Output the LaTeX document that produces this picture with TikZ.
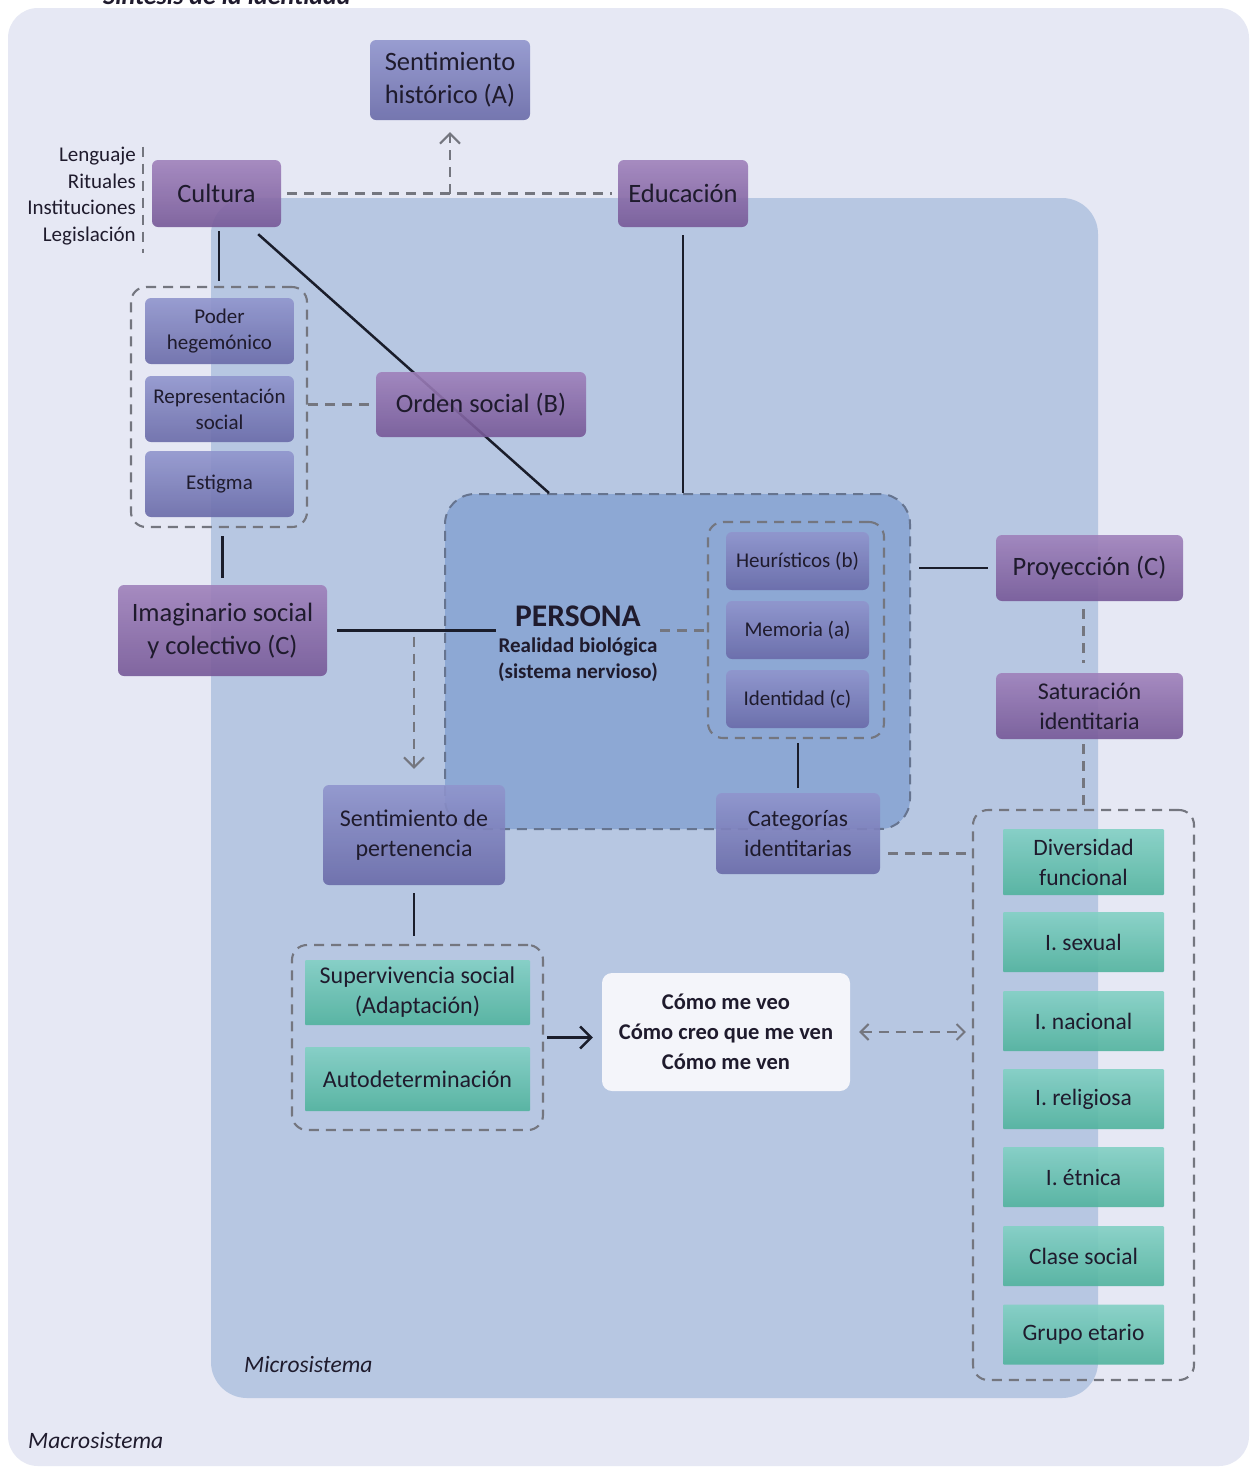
\documentclass[tikz,border=0pt]{standalone}
\usepackage{fontspec}
\setmainfont{Carlito}
\usetikzlibrary{arrows.meta,calc}
\pgfdeclarelayer{bg}
\pgfdeclarelayer{links}
\pgfsetlayers{bg,links,main}

\definecolor{macrobg}{HTML}{E6E8F4}
\definecolor{microbg}{HTML}{B7C7E2}
\definecolor{persfill}{HTML}{8DA8D4}
\definecolor{persedge}{HTML}{66748F}
\definecolor{purpT}{HTML}{9F81BB}
\definecolor{purpB}{HTML}{765897}
\definecolor{lavT}{HTML}{9095CD}
\definecolor{lavB}{HTML}{696AA8}
\definecolor{grnT}{HTML}{82D0C4}
\definecolor{grnB}{HTML}{50B39D}
\definecolor{paper}{HTML}{F4F5FA}
\definecolor{dashgrey}{HTML}{74767F}
\definecolor{ink}{HTML}{1F1B2D}
\definecolor{lineink}{HTML}{1A1D2B}

\tikzset{
  x=1pt, y=-1pt,
  box/.style={rounded corners=6pt, align=center, inner sep=0pt,
    fill opacity=0.9, text opacity=1, text=ink},
  purplebox/.style={box, top color=purpT, bottom color=purpB,
    font=\fontsize{26.5}{33}\selectfont},
  lavbox/.style={box, top color=lavT, bottom color=lavB,
    font=\fontsize{21}{26}\selectfont},
  greenbox/.style={box, rounded corners=1pt, top color=grnT, bottom color=grnB,
    font=\fontsize{23.5}{30}\selectfont, minimum width=161pt},
  groupbox/.style={draw=dashgrey, line width=2.1pt, dash pattern=on 10pt off 7pt,
    rounded corners=15pt, inner sep=0pt},
  sline/.style={draw=lineink, line width=2.5pt},
  dline/.style={draw=dashgrey, line width=2.1pt, dash pattern=on 10pt off 7pt},
  greytip/.tip={Straight Barb[length=10pt,width=20pt,line width=2pt]},
  smalltip/.tip={Straight Barb[length=8pt,width=16pt,line width=2pt]},
  blacktip/.tip={Straight Barb[length=11pt,width=22pt,line width=2.5pt]},
}

\begin{document}
\begin{tikzpicture}
\useasboundingbox (0,0) rectangle (1254,1468);

% --- system areas ---------------------------------------------------------
\begin{pgfonlayer}{bg}
  \fill[white] (0,0) rectangle (1254,1468);
  \fill[macrobg, rounded corners=30pt] (8,8) rectangle (1249,1466);
  \fill[microbg, rounded corners=36pt] (211,198) rectangle (1098,1398);
  \node[draw=persedge, fill=persfill, line width=2pt, dash pattern=on 10pt off 7pt,
        rounded corners=30pt, minimum width=465pt, minimum height=335pt, inner sep=0pt]
        (persona) at (677.5,661.5) {};
\end{pgfonlayer}

\node[anchor=base west, inner sep=0pt, text=ink,
      font=\fontsize{26}{30}\selectfont\bfseries\itshape] (title) at (103,4)
      {Síntesis de la identidad};

\node[anchor=west, inner sep=0pt, text=ink, font=\fontsize{23.5}{28}\selectfont\itshape]
      (microlbl) at (244,1364) {Microsistema};
\node[anchor=west, inner sep=0pt, text=ink, font=\fontsize{23.5}{28}\selectfont\itshape]
      (macrolbl) at (28,1440) {Macrosistema};

% --- dashed groups ---------------------------------------------------------
\node[groupbox, minimum width=176pt, minimum height=240pt] (leftgrp) at (219,407) {};
\node[groupbox, minimum width=176pt, minimum height=216pt] (innergrp) at (796,630) {};
\node[groupbox, minimum width=221pt, minimum height=570pt] (rgrp) at (1083.5,1095) {};
\node[groupbox, minimum width=251pt, minimum height=185pt] (ggrp) at (417.5,1037.5) {};

% --- upper level -----------------------------------------------------------
\node[lavbox, font=\fontsize{26.5}{33}\selectfont, minimum width=160pt, minimum height=80pt]
      (hist) at (450,80) {Sentimiento\\histórico (A)};
\node[purplebox, minimum width=129pt, minimum height=67pt] (cultura) at (216.5,193.5) {Cultura};
\node[purplebox, minimum width=130pt, minimum height=67pt] (educ) at (683,193.5) {Educación};
\node[anchor=east, inner sep=0pt, align=right, text=ink, font=\fontsize{21}{26.7}\selectfont]
      (cultlbl) at (136,196) {Lenguaje\\Rituales\\Instituciones\\Legislación};

% --- left column -----------------------------------------------------------
\node[lavbox, minimum width=149pt, minimum height=66pt] (poder) at (219.5,331) {Poder\\hegemónico};
\node[lavbox, minimum width=149pt, minimum height=66pt] (repr) at (219.5,409) {Representación\\social};
\node[lavbox, minimum width=149pt, minimum height=66pt] (estigma) at (219.5,484) {Estigma};
\node[purplebox, minimum width=210pt, minimum height=65pt] (orden) at (481,404.5) {Orden social (B)};
\node[purplebox, minimum width=209pt, minimum height=91pt] (imag) at (222.5,630.5)
      {Imaginario social\\y colectivo (C)};

% --- person ----------------------------------------------------------------
\node[inner sep=0pt, text=ink, font=\fontsize{31.5}{36}\selectfont\bfseries]
      (ptitle) at (578,616) {PERSONA};
\node[inner sep=2pt, align=center, text=ink, font=\fontsize{21}{26}\selectfont\bfseries]
      (psub) at (578,660) {Realidad biológica\\(sistema nervioso)};
\node[lavbox, minimum width=143pt, minimum height=58pt] (heur) at (797.5,561) {Heurísticos (b)};
\node[lavbox, minimum width=143pt, minimum height=58pt] (mem) at (797.5,630) {Memoria (a)};
\node[lavbox, minimum width=143pt, minimum height=58pt] (ident) at (797.5,699) {Identidad (c)};
\node[lavbox, font=\fontsize{23.5}{30}\selectfont, minimum width=164pt, minimum height=81pt]
      (cat) at (798,833.5) {Categorías\\identitarias};
\node[lavbox, font=\fontsize{24}{30}\selectfont, minimum width=182pt, minimum height=100pt]
      (sentper) at (414,835) {Sentimiento de\\pertenencia};

% --- right column ----------------------------------------------------------
\node[purplebox, minimum width=187pt, minimum height=66pt] (proy) at (1089.5,568) {Proyección (C)};
\node[purplebox, font=\fontsize{24}{30}\selectfont, minimum width=187pt, minimum height=66pt]
      (sat) at (1089.5,706) {Saturación\\identitaria};
\node[greenbox, minimum height=66pt] (div) at (1083.5,862) {Diversidad\\funcional};
\node[greenbox, minimum height=60pt] (sex) at (1083.5,942) {I. sexual};
\node[greenbox, minimum height=60pt] (nac) at (1083.5,1021) {I. nacional};
\node[greenbox, minimum height=60pt] (rel) at (1083.5,1099) {I. religiosa};
\node[greenbox, minimum height=60pt] (etn) at (1083.5,1177) {I. étnica};
\node[greenbox, minimum height=60pt] (clase) at (1083.5,1256) {Clase social};
\node[greenbox, minimum height=60pt] (edad) at (1083.5,1334.5) {Grupo etario};

% --- lower part ------------------------------------------------------------
\node[greenbox, font=\fontsize{24}{30}\selectfont, minimum width=225pt, minimum height=65pt]
      (superv) at (417.5,992.5) {Supervivencia social\\(Adaptación)};
\node[greenbox, font=\fontsize{24}{30}\selectfont, minimum width=225pt, minimum height=64pt]
      (autod) at (417.5,1079) {Autodeterminación};
\node[fill=paper, rounded corners=10pt, inner sep=0pt, align=center, text=ink,
      minimum width=248pt, minimum height=118pt, font=\fontsize{22.5}{30}\selectfont\bfseries]
      (espejo) at (726,1032) {Cómo me veo\\Cómo creo que me ven\\Cómo me ven};

% --- connectors ------------------------------------------------------------
\begin{pgfonlayer}{links}
  \draw[dline, shorten <=6pt, shorten >=6pt] (cultura.east) -- (educ.west);
  \draw[dline, -{greytip}, shorten >=12pt] (hist.south |- cultura.east) -- (hist.south);
  \draw[dline] ($(cultlbl.north east)+(7,0)$) -- ($(cultlbl.south east)+(7,8)$);
  \draw[sline, shorten <=4pt, shorten >=5pt] (cultura.south -| leftgrp.north) -- (leftgrp.north);
  \draw[sline] ($(cultura.south east)+(-23,7)$) -- ($(persona.north west)+(105,0)$);
  \draw[dline, shorten >=3pt] (leftgrp.east |- orden.west) -- (orden.west);
  \draw[sline, shorten <=8pt, shorten >=7pt] (leftgrp.south -| imag.north) -- (imag.north);
  \draw[sline, shorten <=10pt] (imag.east) -- (imag.east -| psub.west);
  \draw[dline] (psub.east |- imag.east) -- (innergrp.west |- imag.east);
  \draw[dline, -{greytip}, shorten >=16pt] ($(imag.east -| sentper.north)+(0,6)$) -- (sentper.north);
  \draw[sline, shorten <=8pt] (educ.south) -- (educ.south |- persona.north);
  \draw[sline, shorten <=4pt, shorten >=5pt] (innergrp.south -| cat.north) -- (cat.north);
  \draw[sline, shorten <=8pt, shorten >=8pt] (persona.east |- proy.west) -- (proy.west);
  \draw[dline, shorten <=8pt, shorten >=10pt] (proy.south -| rgrp.north) -- (sat.north -| rgrp.north);
  \draw[dline, shorten <=5pt] (sat.south -| rgrp.north) -- (rgrp.north);
  \coordinate (catlink) at ($(cat.east)+(0,20)$);
  \draw[dline, shorten <=8pt] (catlink) -- (catlink -| rgrp.west);
  \draw[sline, shorten <=8pt, shorten >=8pt] (sentper.south) -- (sentper.south |- ggrp.north);
  \draw[sline, -{blacktip}, shorten <=3pt, shorten >=9pt] (ggrp.east) -- (ggrp.east -| espejo.west);
  \draw[dline, {smalltip}-{smalltip}, shorten <=9pt, shorten >=6pt] (espejo.east) -- (espejo.east -| rgrp.west);
\end{pgfonlayer}
\end{tikzpicture}
\end{document}
